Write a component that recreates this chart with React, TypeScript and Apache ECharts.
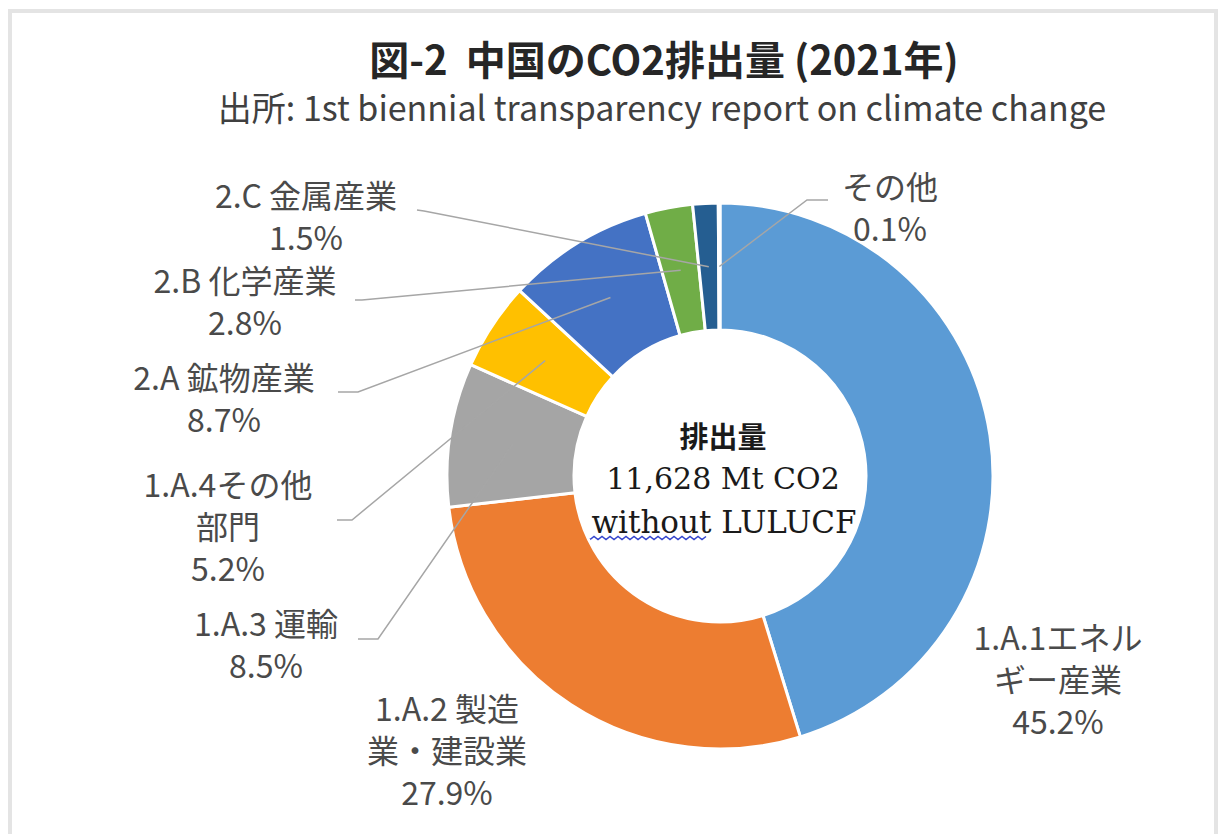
import React, { useEffect, useRef } from "react";
import * as echarts from "echarts";

// ---- data ----
const categories = [
  "1.A.1エネル\nギー産業",
  "1.A.2 製造\n業・建設業",
  "1.A.3 運輸",
  "1.A.4その他\n部門",
  "2.A 鉱物産業",
  "2.B 化学産業",
  "2.C 金属産業",
  "その他",
];
const shares = [45.2, 27.9, 8.5, 5.2, 8.7, 2.8, 1.5, 0.1];
const sliceColors = ["#5B9BD5", "#ED7D31", "#A5A5A5", "#FFC000", "#4472C4", "#70AD47", "#255E91", "#9E480E"];
const titleText = "図-2  中国のCO2排出量 (2021年)";
const subtitleText = "出所: 1st biennial transparency report on climate change";
const centerLines = ["排出量", "11,628 Mt CO2", "without LULUCF"];

// ---- layout ----
const CX = 720;
const CY = 476;
const R0 = 146;
const R1 = 273;
const labelPos: [number, number][] = [
  [1058, 678],
  [447, 749],
  [266, 643],
  [228, 525],
  [224, 397],
  [245, 300],
  [306, 215],
  [890, 206],
];
const lineStart: ([number, number][] | null)[] = [
  null,
  null,
  [[358, 639], [378, 639]],
  [[337, 520], [352, 520]],
  [[338, 392], [358, 392]],
  [[355, 300], [362, 300]],
  [[417, 210], [424, 211]],
  [[828, 200], [807, 200]],
];

const JP = '"Noto Sans CJK JP", "Noto Sans", sans-serif';
const SERIF = '"DejaVu Serif", "Liberation Serif", serif';

function midAngle(i: number): number {
  const total = shares.reduce((a, b) => a + b, 0);
  let cum = 0;
  for (let k = 0; k < i; k++) cum += shares[k];
  const frac = (cum + shares[i] / 2) / total;
  return -Math.PI / 2 + frac * 2 * Math.PI;
}

export default function App() {
  const ref = useRef<HTMLDivElement>(null);
  useEffect(() => {
    if (!ref.current) return;
    const chart = echarts.init(ref.current, null, { renderer: "svg" });
    const waves: number[][] = [];
    for (let x = 578, k = 0; x <= 706; x += 4, k++) waves.push([x, 538 + (k % 2 === 0 ? -1.5 : 1.5)]);

    const common = {
      type: "pie",
      center: [CX, CY],
      radius: [R0, R1],
      startAngle: 90,
      clockwise: true,
      avoidLabelOverlap: false,
      silent: true,
    };

    chart.setOption({
      animation: false,
      backgroundColor: "#ffffff",
      title: [
        {
          text: titleText,
          left: 664,
          top: 38,
          padding: 0,
          textAlign: "center",
          textStyle: { fontSize: 40, fontWeight: "bold", color: "#262626", fontFamily: JP },
        },
        {
          text: subtitleText,
          left: 662,
          top: 89,
          padding: 0,
          textAlign: "center",
          textStyle: { fontSize: 34, fontWeight: "normal", color: "#404040", fontFamily: JP },
        },
      ],
      series: [
        {
          ...common,
          z: 2,
          itemStyle: { borderColor: "#ffffff", borderWidth: 3 },
          label: { show: false },
          labelLine: { show: false },
          data: categories.map((name, i) => ({
            name,
            value: shares[i],
            itemStyle: { color: sliceColors[i] },
          })),
        },
        {
          ...common,
          z: 5,
          itemStyle: { color: "rgba(0,0,0,0)", borderWidth: 0 },
          label: {
            show: true,
            position: "outside",
            color: "#4A4A4A",
            fontSize: 32,
            lineHeight: 42,
            fontFamily: JP,
            align: "center",
            formatter: (p: any) => `${p.name}\n${Number(p.value).toFixed(1)}%`,
          },
          labelLine: { show: true, lineStyle: { color: "#A6A6A6", width: 1.5 } },
          labelLayout: (params: any) => {
            const i = params.dataIndex;
            const [x, y] = labelPos[i];
            const res: any = { x, y, align: "center", verticalAlign: "middle", hideOverlap: false };
            const ls = lineStart[i];
            if (ls) {
              let ang = midAngle(i);
              const p = params.labelLinePoints;
              if (p && p.length) ang = Math.atan2(p[0][1] - CY, p[0][0] - CX);
              const rm = (R0 + R1) / 2;
              res.labelLinePoints = [...ls, [CX + rm * Math.cos(ang), CY + rm * Math.sin(ang)]];
            }
            return res;
          },
          data: categories.map((name, i) => ({
            name,
            value: shares[i],
            labelLine: { show: lineStart[i] !== null },
          })),
        },
      ],
      graphic: [
        {
          type: "rect",
          shape: { x: 10, y: 11, width: 1206, height: 840 },
          style: { fill: "none", stroke: "#E4E4E4", lineWidth: 4 },
          silent: true,
        },
        {
          type: "text",
          x: 723,
          y: 435,
          style: {
            text: centerLines[0],
            textAlign: "center",
            textVerticalAlign: "middle",
            font: `bold 29px ${JP}`,
            fill: "#1a1a1a",
          },
        },
        {
          type: "text",
          x: 723,
          y: 478,
          style: {
            text: centerLines[1],
            textAlign: "center",
            textVerticalAlign: "middle",
            font: `30px ${SERIF}`,
            fill: "#1a1a1a",
          },
        },
        {
          type: "text",
          x: 724,
          y: 522,
          style: {
            text: centerLines[2],
            textAlign: "center",
            textVerticalAlign: "middle",
            font: `31px ${SERIF}`,
            fill: "#1a1a1a",
          },
        },
        {
          type: "polyline",
          shape: { points: waves },
          style: { stroke: "#3344CC", lineWidth: 1.5, fill: "none" },
          silent: true,
        },
      ],
    });
    return () => chart.dispose();
  }, []);
  return <div ref={ref} style={{ position: "fixed", left: 0, top: 0, width: 1222, height: 834 }} />;
}
